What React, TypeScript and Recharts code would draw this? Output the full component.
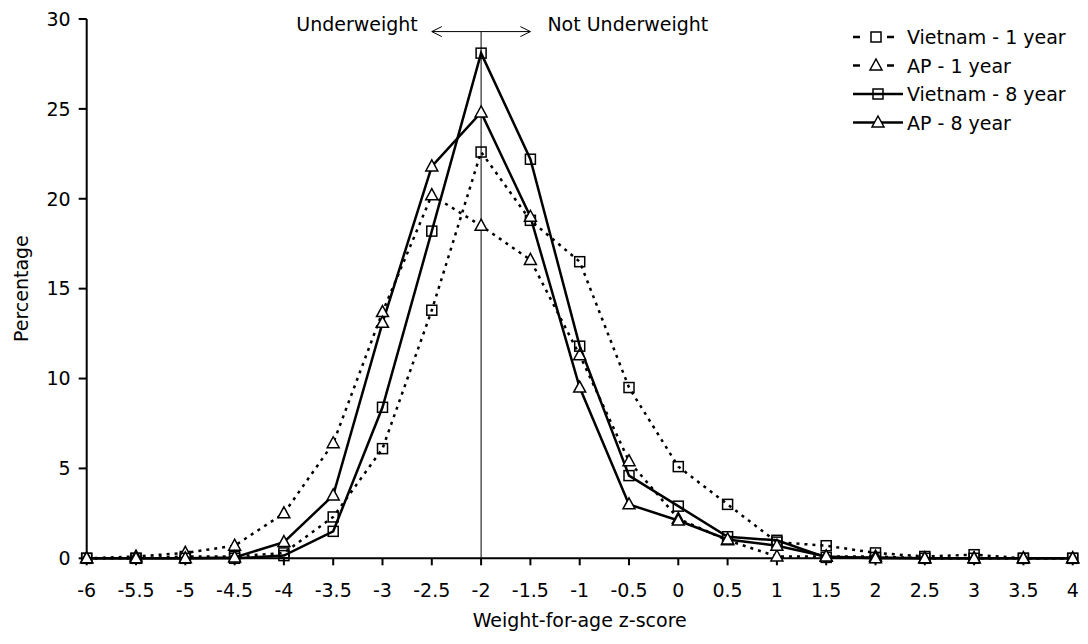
import React from 'react';
import { LineChart, Line, XAxis, YAxis, ReferenceLine } from 'recharts';

const zScores = [-6, -5.5, -5, -4.5, -4, -3.5, -3, -2.5, -2, -1.5, -1, -0.5, 0, 0.5, 1, 1.5, 2, 2.5, 3, 3.5, 4];
const vietnam1 = [0, 0, 0.1, 0.1, 0.3, 2.3, 6.1, 13.8, 22.6, 18.8, 16.5, 9.5, 5.1, 3.0, 0.9, 0.7, 0.3, 0.1, 0.2, 0, 0];
const ap1 = [0, 0.1, 0.3, 0.7, 2.5, 6.4, 13.7, 20.2, 18.5, 16.6, 11.3, 5.4, 2.2, 1.0, 0.1, 0.1, 0.1, 0, 0, 0, 0];
const vietnam8 = [0, 0, 0, 0, 0.15, 1.5, 8.4, 18.2, 28.1, 22.2, 11.8, 4.6, 2.9, 1.2, 1.0, 0.05, 0.05, 0, 0, 0, 0];
const ap8 = [0, 0, 0, 0.05, 0.9, 3.5, 13.1, 21.8, 24.8, 19.0, 9.5, 3.0, 2.1, 1.05, 0.7, 0.1, 0, 0, 0, 0, 0];
const yTicks = [0, 5, 10, 15, 20, 25, 30];

const seriesNames = ['Vietnam - 1 year', 'AP - 1 year', 'Vietnam - 8 year', 'AP - 8 year'];

const data = zScores.map((z, i) => ({
  z,
  v1: vietnam1[i],
  a1: ap1[i],
  v8: vietnam8[i],
  a8: ap8[i],
}));

const FONT = '"DejaVu Sans", sans-serif';

const squareDot = (props: any) => {
  const { cx, cy, key, index } = props;
  if (cx == null || cy == null) return <g key={key ?? index} />;
  return (
    <rect key={key ?? index} x={cx - 5} y={cy - 5} width={10} height={10} fill="none" stroke="#000" strokeWidth={1.5} />
  );
};

const triangleDot = (props: any) => {
  const { cx, cy, key, index } = props;
  if (cx == null || cy == null) return <g key={key ?? index} />;
  return (
    <path
      key={key ?? index}
      d={`M${cx},${cy - 6.5} L${cx + 6},${cy + 4.5} L${cx - 6},${cy + 4.5} Z`}
      fill="#fff"
      stroke="#000"
      strokeWidth={1.5}
    />
  );
};

const ArrowShape = (props: any) => {
  const { x1, y1, x2, y2 } = props;
  if (x1 == null) return <g />;
  return (
    <g>
      <line x1={x1} y1={y1} x2={x2} y2={y2} stroke="#000" strokeWidth={1} />
      <polyline points={`${x1 + 10},${y1 - 5} ${x1},${y1} ${x1 + 10},${y1 + 5}`} fill="none" stroke="#000" strokeWidth={1} />
      <polyline points={`${x2 - 10},${y2 - 5} ${x2},${y2} ${x2 - 10},${y2 + 5}`} fill="none" stroke="#000" strokeWidth={1} />
      <text x={x1 - 14} y={y1 - 1} textAnchor="end" fontFamily={FONT} fontSize={19} fill="#000">Underweight</text>
      <text x={x2 + 17} y={y1 - 1} textAnchor="start" fontFamily={FONT} fontSize={19} fill="#000">Not Underweight</text>
    </g>
  );
};

const LegendBox = () => {
  const rows = [
    { name: seriesNames[0], dashed: true, marker: 'square' },
    { name: seriesNames[1], dashed: true, marker: 'triangle' },
    { name: seriesNames[2], dashed: false, marker: 'square' },
    { name: seriesNames[3], dashed: false, marker: 'triangle' },
  ];
  return (
    <svg width={238} height={125} style={{ position: 'absolute', left: 850, top: 22, display: 'block' }}>
      {rows.map((r, i) => {
        const cy = 15 + i * 28.5;
        const mx = r.dashed ? 26 : 28;
        return (
          <g key={r.name}>
            {r.dashed ? (
              <g>
                <line x1={3} y1={cy} x2={10} y2={cy} stroke="#000" strokeWidth={2.5} />
                <line x1={37} y1={cy} x2={44} y2={cy} stroke="#000" strokeWidth={2.5} />
              </g>
            ) : (
              <line x1={3} y1={cy} x2={53} y2={cy} stroke="#000" strokeWidth={2.5} />
            )}
            {r.marker === 'square' ? (
              <rect x={mx - 5} y={cy - 5} width={10} height={10} fill={r.dashed ? '#fff' : 'none'} stroke="#000" strokeWidth={1.5} />
            ) : (
              <path d={`M${mx},${cy - 6.5} L${mx + 6},${cy + 4.5} L${mx - 6},${cy + 4.5} Z`} fill="#fff" stroke="#000" strokeWidth={1.5} />
            )}
            <text x={57} y={cy + 7} fontFamily={FONT} fontSize={19} fill="#000">{r.name}</text>
          </g>
        );
      })}
    </svg>
  );
};

export default function App() {
  return (
    <div style={{ position: 'absolute', left: 0, top: 0, width: 1088, height: 644, background: '#fff' }}>
      <LineChart
        width={1088}
        height={644}
        data={data}
        margin={{ top: 19, right: 15.3, bottom: 10.7, left: 0 }}
      >
        <XAxis
          dataKey="z"
          type="number"
          domain={[-6, 4]}
          ticks={zScores}
          interval={0}
          height={75}
          axisLine={{ stroke: '#000', strokeWidth: 2 }}
          tickLine={{ stroke: '#000', strokeWidth: 2 }}
          tickSize={7}
          tickMargin={18}
          tick={{ fill: '#000', fontSize: 19, fontFamily: FONT }}
          label={{ value: 'Weight-for-age z-score', position: 'insideBottom', offset: 6, fill: '#000', fontSize: 19, fontFamily: FONT }}
        />
        <YAxis
          type="number"
          domain={[0, 30]}
          ticks={yTicks}
          interval={0}
          width={86.7}
          axisLine={{ stroke: '#000', strokeWidth: 2 }}
          tickLine={{ stroke: '#000', strokeWidth: 2 }}
          tickSize={8}
          tickMargin={8}
          tick={{ fill: '#000', fontSize: 19, fontFamily: FONT }}
          label={{ value: 'Percentage', angle: -90, position: 'insideLeft', offset: 21, fill: '#000', fontSize: 19, fontFamily: FONT, style: { textAnchor: 'middle' } }}
        />
        <Line dataKey="v1" name={seriesNames[0]} stroke="#000" strokeWidth={2.5} strokeDasharray="3 5" dot={squareDot} isAnimationActive={false} />
        <Line dataKey="a1" name={seriesNames[1]} stroke="#000" strokeWidth={2.5} strokeDasharray="3 5" dot={triangleDot} isAnimationActive={false} />
        <Line dataKey="v8" name={seriesNames[2]} stroke="#000" strokeWidth={2.5} dot={squareDot} isAnimationActive={false} />
        <Line dataKey="a8" name={seriesNames[3]} stroke="#000" strokeWidth={2.5} dot={triangleDot} isAnimationActive={false} />
        <ReferenceLine
          segment={[{ x: -2, y: 0 }, { x: -2, y: 29.3 }]}
          stroke="#000"
          strokeWidth={1}
          ifOverflow="visible"
        />
        <ReferenceLine
          segment={[{ x: -2.5, y: 29.3 }, { x: -1.5, y: 29.3 }]}
          ifOverflow="visible"
          shape={ArrowShape}
        />
      </LineChart>
      <LegendBox />
    </div>
  );
}
